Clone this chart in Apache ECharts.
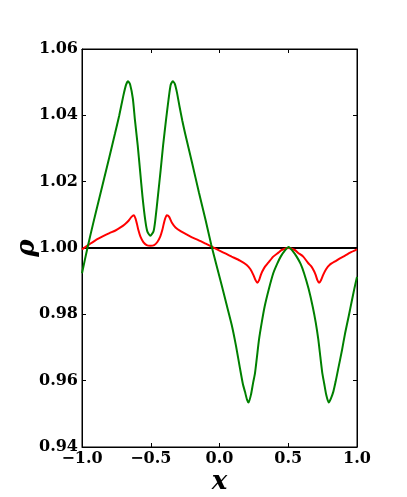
<!DOCTYPE html>
<html>
<head>
<meta charset="utf-8">
<script src="https://cdn.jsdelivr.net/npm/echarts@6/dist/echarts.min.js"></script>
<style>
html,body{margin:0;padding:0;background:#fff;}
#chart{width:407px;height:497px;}
</style>
</head>
<body>
<div id="chart"></div>
<script>
// ---- data ----
var xTicks = [-1.0, -0.5, 0.0, 0.5, 1.0];
var xTickLabels = ['\u22121.0', '\u22120.5', '0.0', '0.5', '1.0'];
var yTicks = [0.94, 0.96, 0.98, 1.00, 1.02, 1.04, 1.06];
var yTickLabels = ['0.94', '0.96', '0.98', '1.00', '1.02', '1.04', '1.06'];

var greenX = [-1.00,-0.96,-0.92,-0.88,-0.84,-0.80,-0.76,-0.73,-0.70,-0.68,-0.665,-0.65,-0.63,-0.615,-0.595,-0.578,-0.56,-0.54,-0.525,-0.503,-0.48,-0.467,-0.447,-0.428,-0.41,-0.389,-0.37,-0.355,-0.340,-0.325,-0.31,-0.29,-0.27,-0.25,-0.20,-0.15,-0.10,-0.06,-0.02,0.016,0.05,0.089,0.12,0.149,0.17,0.185,0.20,0.212,0.23,0.245,0.258,0.272,0.287,0.307,0.328,0.36,0.391,0.42,0.445,0.475,0.503,0.53,0.561,0.59,0.615,0.648,0.678,0.70,0.719,0.734,0.748,0.762,0.776,0.794,0.81,0.828,0.845,0.864,0.89,0.913,0.94,0.961,0.98,1.00];
var greenY = [0.9924,1.0001,1.0072,1.0140,1.0208,1.0276,1.0345,1.0398,1.0458,1.0492,1.0503,1.0493,1.0450,1.0386,1.0310,1.0235,1.0155,1.0084,1.0050,1.0037,1.0050,1.0084,1.0160,1.0235,1.0310,1.0386,1.0450,1.0492,1.0503,1.0495,1.0470,1.0425,1.0383,1.0345,1.0258,1.0168,1.0082,1.0010,0.9945,0.9888,0.9832,0.9768,0.9705,0.9637,0.9590,0.9567,0.9543,0.9534,0.9560,0.9595,0.9622,0.9670,0.9723,0.9775,0.9823,0.9878,0.9924,0.9953,0.9974,0.9992,1.0003,0.9992,0.9974,0.9952,0.9924,0.9877,0.9823,0.9775,0.9723,0.9670,0.9622,0.9590,0.9558,0.9534,0.9546,0.9567,0.9598,0.9637,0.9690,0.9742,0.9795,0.9838,0.9876,0.9913];

var redX = [-1.00,-0.95,-0.90,-0.85,-0.80,-0.76,-0.72,-0.69,-0.66,-0.64,-0.623,-0.61,-0.60,-0.59,-0.575,-0.554,-0.53,-0.503,-0.475,-0.452,-0.431,-0.416,-0.406,-0.396,-0.383,-0.366,-0.346,-0.32,-0.28,-0.24,-0.20,-0.154,-0.10,-0.057,0.00,0.05,0.089,0.149,0.198,0.225,0.246,0.262,0.275,0.288,0.30,0.311,0.331,0.355,0.391,0.428,0.452,0.50,0.548,0.573,0.609,0.646,0.669,0.689,0.700,0.712,0.724,0.738,0.754,0.775,0.80,0.85,0.876,0.913,0.95,1.00];
var redY = [0.9996,1.0010,1.0024,1.0035,1.0045,1.0052,1.0062,1.0071,1.0083,1.0094,1.0099,1.0088,1.0072,1.0054,1.0034,1.0018,1.0009,1.0007,1.0009,1.0018,1.0034,1.0054,1.0072,1.0088,1.0099,1.0094,1.0076,1.0062,1.0050,1.0041,1.0032,1.0024,1.0013,1.0004,0.9992,0.9982,0.9974,0.9962,0.9949,0.9936,0.9919,0.9903,0.9895,0.9903,0.9918,0.9929,0.9944,0.9956,0.9974,0.9986,0.9994,1.0000,0.9994,0.9985,0.9974,0.9954,0.9944,0.9929,0.9918,0.9903,0.9895,0.9903,0.9919,0.9936,0.9949,0.9962,0.9969,0.9977,0.9986,0.9996];

var refX = [-1.0, 1.0];
var refY = [1.0, 1.0];

function zip(xs, ys){ return xs.map(function(x,i){ return [x, ys[i]]; }); }
function xLabel(v){
  var i = Math.round((v - xTicks[0]) / 0.5);
  return xTickLabels[i] !== undefined ? xTickLabels[i] : '';
}
function yLabel(v){
  var i = Math.round((v - yTicks[0]) / 0.02);
  return yTickLabels[i] !== undefined ? yTickLabels[i] : '';
}

var FONT = 'DejaVu Serif';
var chart = echarts.init(document.getElementById('chart'), null, {renderer:'canvas'});
var tickStyle = {show:true, inside:true, length:4, lineStyle:{color:'#000', width:1}};
var option = {
  animation:false,
  backgroundColor:'#fff',
  grid:{left:82, right:50, top:49, bottom:50, containLabel:false, outerBoundsMode:'none',
        show:true, borderColor:'#000', borderWidth:1, backgroundColor:'transparent'},
  xAxis:[{
    type:'value', min:-1, max:1, interval:0.5, position:'bottom',
    axisLine:{show:true, onZero:false, lineStyle:{color:'#000', width:1}},
    axisTick:tickStyle, splitLine:{show:false},
    axisLabel:{formatter:xLabel, color:'#000', fontFamily:FONT, fontWeight:'bold', fontSize:16, margin:4},
    name:'x', nameLocation:'middle', nameGap:22, nameMoveOverlap:false,
    nameTextStyle:{fontFamily:FONT, fontStyle:'italic', fontWeight:'bold', fontSize:26, color:'#000'}
  },{
    type:'value', min:-1, max:1, interval:0.5, position:'top',
    axisLine:{show:true, onZero:false, lineStyle:{color:'#000', width:1}},
    axisTick:tickStyle, splitLine:{show:false}, axisLabel:{show:false}
  }],
  yAxis:[{
    type:'value', min:0.94, max:1.06, interval:0.02, position:'left',
    axisLine:{show:true, onZero:false, lineStyle:{color:'#000', width:1}},
    axisTick:tickStyle, splitLine:{show:false},
    axisLabel:{formatter:yLabel, color:'#000', fontFamily:FONT, fontWeight:'bold', fontSize:16, margin:4},
    name:'\u03c1', nameLocation:'middle', nameGap:42, nameRotate:90, nameMoveOverlap:false,
    nameTextStyle:{fontFamily:FONT, fontStyle:'italic', fontWeight:'bold', fontSize:26, color:'#000'}
  },{
    type:'value', min:0.94, max:1.06, interval:0.02, position:'right',
    axisLine:{show:true, onZero:false, lineStyle:{color:'#000', width:1}},
    axisTick:tickStyle, splitLine:{show:false}, axisLabel:{show:false}
  }],
  series:[
    {type:'line', data:zip(refX, refY), showSymbol:false, lineStyle:{color:'#000', width:2}, z:2},
    {type:'line', data:zip(redX, redY), showSymbol:false, smooth:0.2, lineStyle:{color:'#ff0000', width:2}, z:3},
    {type:'line', data:zip(greenX, greenY), showSymbol:false, smooth:0.2, lineStyle:{color:'#008000', width:2}, z:4}
  ]
};
chart.setOption(option);
</script>
</body>
</html>
